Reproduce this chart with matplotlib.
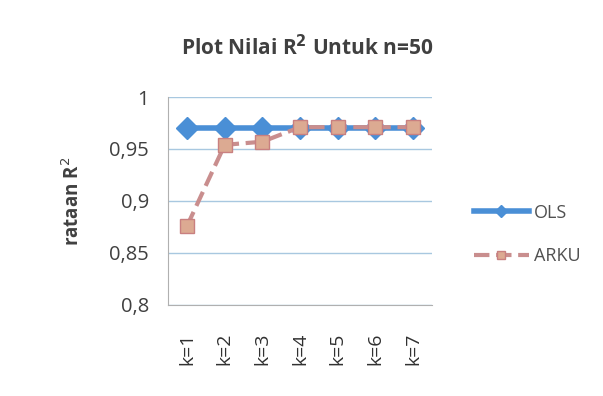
import matplotlib.pyplot as plt
import numpy as np

plt.rcParams['font.family'] = ['Open Sans', 'DejaVu Sans']

categories = ['k=1', 'k=2', 'k=3', 'k=4', 'k=5', 'k=6', 'k=7']
ols = [0.970, 0.970, 0.970, 0.970, 0.970, 0.970, 0.970]
arku = [0.876, 0.954, 0.957, 0.971, 0.971, 0.971, 0.971]
yticks = [0.8, 0.85, 0.9, 0.95, 1.0]
ytick_labels = ['0,8', '0,85', '0,9', '0,95', '1']

fig = plt.figure(figsize=(6.03, 3.96), dpi=100)
ax = fig.add_axes([0.279, 0.230, 0.437, 0.525])

x = np.arange(len(categories))
ax.plot(x, ols, color='#4a8fd6', lw=4, marker='D', ms=11,
        markerfacecolor='#4a8fd6', markeredgecolor='#4a8fd6', label='OLS', zorder=3)
ax.plot(x, arku, color='#c98e8e', lw=3, ls='--', marker='s', ms=10,
        markerfacecolor='#dcaa92', markeredgecolor='#c98080', label='ARKU', zorder=4)

ax.set_xlim(-0.5, len(categories) - 0.5)
ax.set_ylim(0.8, 1.0)
ax.set_yticks(yticks)
ax.set_yticklabels(ytick_labels, fontsize=14.5, color='#404040')
ax.set_xticks(x)
ax.set_xticklabels(categories, rotation=90, fontsize=14, color='#303030')
ax.tick_params(axis='y', length=0, pad=14)
ax.tick_params(axis='x', length=0, pad=20)
ax.grid(axis='y', color='#a8c8e0', lw=1)
ax.set_axisbelow(True)
for s in ['top', 'right']:
    ax.spines[s].set_visible(False)
ax.spines['left'].set_color('#b0b0b0')
ax.spines['bottom'].set_color('#b0b0b0')

ax.set_ylabel('rataan R$^2$', fontsize=13.5, fontweight='bold', color='#404040', labelpad=18)
fig.text(0.51, 0.88, 'Plot Nilai R$^\\mathbf{2}$ Untuk n=50', ha='center', va='center',
         fontsize=15, fontweight='bold', color='#404040')

ax.legend(loc='center left', bbox_to_anchor=(1.1, 0.34), frameon=False,
          fontsize=13, labelspacing=1.4, handlelength=3.0, markerscale=0.6,
          labelcolor='#505050', handletextpad=0.3)

fig.savefig('out.png', dpi=100)
